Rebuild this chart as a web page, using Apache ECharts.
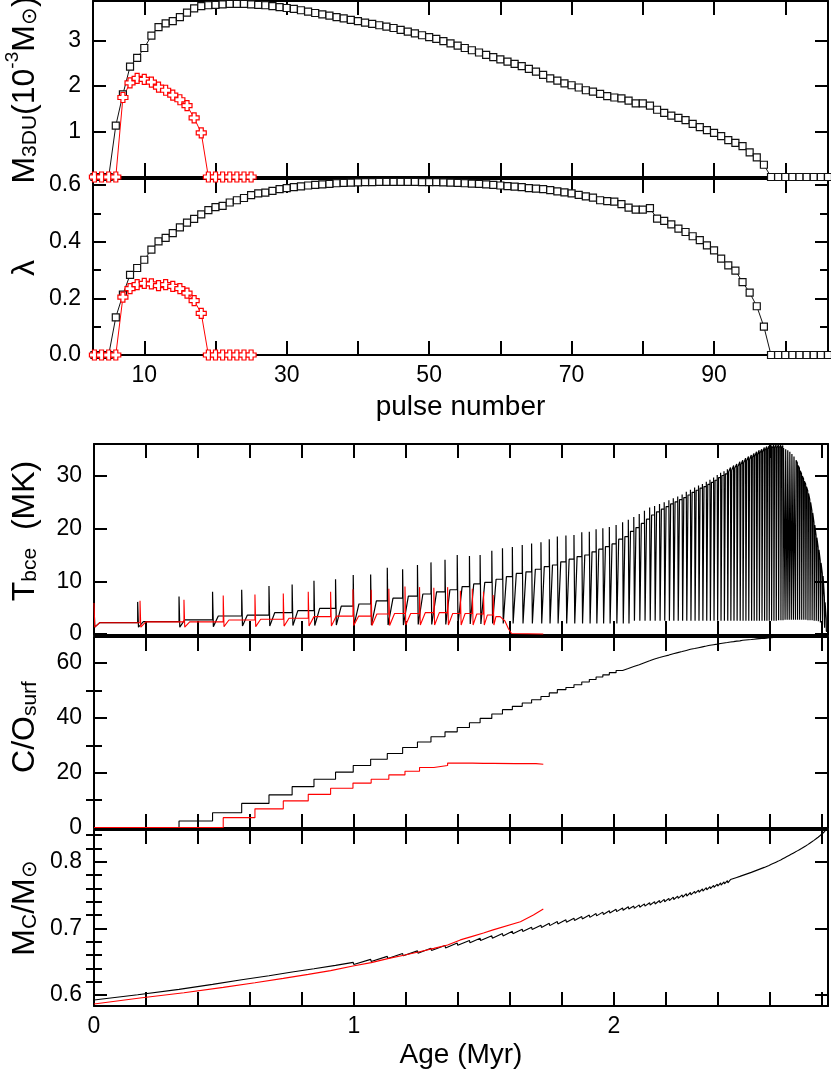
<!DOCTYPE html>
<html>
<head>
<meta charset="utf-8">
<script src="https://cdn.jsdelivr.net/npm/echarts@6/dist/echarts.min.js"></script>
<style>
  html, body { margin: 0; padding: 0; background: #fff; }
  #chart { width: 831px; height: 1078px; }
</style>
</head>
<body>
<div id="chart"></div>
<script>
// ---- upper block: third dredge-up per pulse ----
const firstPulse = 3;
const m3duBlack = [
  0, 0, 0,
  1.13, 1.82, 2.43, 2.62, 2.84, 3.11, 3.30, 3.38, 3.43, 3.52, 3.62, 3.71, 3.76, 3.78, 3.79, 3.80, 3.81, 3.81, 3.81,
  3.80, 3.79, 3.78, 3.76, 3.74, 3.72, 3.70, 3.67, 3.64, 3.61,
  3.58, 3.55, 3.52, 3.49, 3.46, 3.43, 3.40, 3.37, 3.34, 3.31,
  3.28, 3.24, 3.20, 3.16, 3.12, 3.08, 3.04, 2.99, 2.94, 2.89,
  2.84, 2.79, 2.74, 2.69, 2.64, 2.59, 2.54, 2.49, 2.44, 2.38,
  2.32, 2.25,
  2.17, 2.12, 2.06, 2.02, 1.97, 1.91, 1.88, 1.83, 1.78, 1.75,
  1.73, 1.68, 1.62, 1.62, 1.57, 1.48, 1.41, 1.35, 1.30, 1.25,
  1.17, 1.10, 1.03, 0.97, 0.90, 0.81, 0.75, 0.68, 0.54, 0.43, 0.27,
  0, 0, 0, 0, 0, 0, 0, 0, 0
];
const lambdaBlack = [
  0, 0, 0,
  0.133, 0.213, 0.283, 0.307, 0.336, 0.372, 0.401, 0.413, 0.430, 0.450, 0.467, 0.480,
  0.496, 0.511, 0.522, 0.526, 0.538, 0.546, 0.554, 0.564, 0.570, 0.573, 0.579, 0.585,
  0.589, 0.592, 0.595, 0.598, 0.600, 0.602, 0.604, 0.606, 0.607, 0.608,
  0.609, 0.610, 0.610, 0.611, 0.611, 0.611, 0.611, 0.611, 0.611, 0.610,
  0.610, 0.610, 0.609, 0.608, 0.607, 0.606, 0.605, 0.604, 0.602, 0.600,
  0.598, 0.596, 0.594, 0.592, 0.589, 0.587, 0.585,
  0.582, 0.577, 0.574, 0.570, 0.565, 0.560, 0.555, 0.546, 0.543, 0.541,
  0.532, 0.520, 0.513, 0.513, 0.518, 0.481, 0.473, 0.461, 0.446, 0.434,
  0.419, 0.405, 0.387, 0.369, 0.340, 0.316, 0.298, 0.257, 0.220, 0.172, 0.100,
  0, 0, 0, 0, 0, 0, 0, 0, 0
];
const m3duRed = [0, 0, 0, 0, 1.75, 2.07, 2.17, 2.15, 2.09, 1.98, 1.91, 1.80, 1.70, 1.57, 1.30, 0.97, 0, 0, 0, 0, 0, 0, 0];
const lambdaRed = [0, 0, 0, 0, 0.204, 0.234, 0.248, 0.253, 0.251, 0.245, 0.248, 0.242, 0.234, 0.218, 0.192, 0.147, 0, 0, 0, 0, 0, 0, 0];

const pulseTicks = [10, 20, 30, 40, 50, 60, 70, 80, 90, 100];
const pulseLabels = [10, 30, 50, 70, 90];

// ---- lower block: evolution with age (Myr), one entry per thermal pulse ----
const ageBlack = [
  0, 0.168, 0.327, 0.456, 0.568, 0.673, 0.762, 0.846, 0.929, 0.997,
  1.064, 1.128, 1.187, 1.244, 1.296, 1.350, 1.397, 1.444, 1.485, 1.530,
  1.571, 1.609, 1.647, 1.683, 1.719, 1.751, 1.782, 1.815, 1.846, 1.876,
  1.905, 1.931, 1.957, 1.982, 2.008, 2.033, 2.055,
  2.076, 2.097, 2.117, 2.137, 2.156, 2.175, 2.193, 2.211, 2.228, 2.245,
  2.262, 2.278, 2.294, 2.310, 2.325, 2.340, 2.355, 2.369, 2.383, 2.397,
  2.410, 2.423, 2.436, 2.448, 2.460, 2.472, 2.484, 2.495, 2.506, 2.517,
  2.528, 2.538, 2.548, 2.558, 2.568, 2.578, 2.587, 2.596, 2.605, 2.614,
  2.623, 2.632, 2.641, 2.649, 2.657, 2.665, 2.673, 2.681, 2.689, 2.697,
  2.705, 2.713, 2.721, 2.729, 2.737, 2.745, 2.753, 2.761, 2.769, 2.777,
  2.785, 2.793, 2.801, 2.809, 2.816
];
const tPeakBlack = [
  5.9, 6.1, 7.1, 8.0, 8.4, 9.1, 9.4, 10.1, 10.4, 11.2,
  11.3, 12.6, 12.3, 13.1, 13.6, 14.1, 15.0, 14.8, 15.0, 15.8,
  16.3, 16.5, 16.9, 17.2, 17.4, 18.0, 18.5, 18.7, 18.8, 19.3,
  19.4, 19.9, 20.1, 20.3, 20.7, 21.2, 21.7,
  22.2, 22.8, 23.4, 24.0, 24.3, 24.7, 25.0, 25.4, 25.8, 26.1,
  26.5, 27.0, 27.4, 27.8, 28.2, 28.5, 28.9, 29.3, 29.7, 30.2,
  30.6, 30.9, 31.3, 31.6, 32.0, 32.3, 32.7, 33.0, 33.4, 33.7,
  34.0, 34.3, 34.6, 34.9, 35.1, 35.4, 35.6, 35.7, 35.8, 35.9,
  35.9, 35.9, 35.9, 35.8, 35.6, 35.4, 35.1, 34.7, 34.2, 33.5,
  32.5, 31.5, 30.5, 29.5, 28.5, 27.2, 25.5, 23.5, 21.2, 18.8,
  16.5, 14.0, 11.5, 7.0, 3.0
];
const tLevelBlack = [
  2.15, 2.34, 2.7, 3.42, 3.6, 4.05, 4.43, 4.88, 5.3, 5.7,
  6.3, 6.8, 7.2, 7.6, 8.0, 8.4, 9.0, 9.5, 9.8, 10.4,
  10.9, 11.5, 11.8, 12.3, 12.8, 13.1, 13.7, 14.2, 14.7, 15.0,
  15.6, 16.1, 16.6, 17.1, 18.0, 18.5, 19.5,
  20.2, 21.0, 21.8, 22.6, 23.2, 23.7, 24.2, 24.7, 25.1, 25.5,
  25.9, 26.4, 26.9, 27.3, 27.7, 28.0, 28.4, 28.8, 29.2, 29.7,
  30.1, 30.4, 30.8, 31.1, 31.5, 31.8, 32.2, 32.5, 32.9, 33.2,
  33.5, 33.8, 34.1, 34.4, 34.6, 34.9, 35.1, 35.2, 35.3, 35.4,
  35.4, 35.4, 35.4, 35.3, 35.1, 34.9, 34.6, 34.2, 33.7, 33.0,
  32.0, 31.0, 30.0, 29.0, 28.0, 26.7, 25.0, 23.0, 20.7, 18.3,
  16.0, 13.5, 11.0, 6.0, 0.5
];
const tDipBlack = [
  1.3, 1.3, 1.3, 1.4, 1.5, 1.5, 1.6, 1.6, 1.7, 1.7,
  1.7, 1.7, 1.7, 1.8, 1.8, 1.8, 1.9, 1.9, 1.9, 2.0,
  2.0, 2.0, 2.0, 2.0, 2.0, 2.0, 2.0, 2.0, 2.0, 2.0,
  2.0, 2.0, 2.0, 2.0, 2.0, 2.0, 2.0,
  2.5, 2.5, 2.5, 2.5, 2.5, 2.5, 2.5, 2.5, 2.5, 2.5,
  2.5, 2.5, 2.5, 2.5, 2.5, 2.5, 2.5, 2.5, 2.5, 2.5,
  2.5, 2.5, 2.5, 2.5, 2.5, 2.5, 2.5, 2.5, 2.5, 2.5,
  2.5, 2.5, 2.5, 2.5, 2.5, 2.5, 2.5, 2.5, 2.5, 2.5,
  2.5, 2.6, 2.6, 2.6, 2.7, 2.7, 2.7, 2.7, 2.7, 2.7,
  2.7, 2.7, 2.7, 2.7, 2.7, 2.6, 2.6, 2.6, 2.5, 2.5,
  2.4, 2.2, 1.8, 1.2, 0.5
];
const coBlack = [
  0, 0, 2.4, 5.4, 8.8, 11.9, 14.9, 17.6, 20.2, 22.6,
  24.9, 27.0, 29.2, 31.2, 33.1, 34.9, 36.5, 38.2, 39.8, 41.4,
  43.0, 44.2, 45.4, 46.6, 47.8, 49.1, 50.3, 51.1, 52.1, 53.1,
  54.0, 54.9, 55.7, 56.5, 57.3, 58.0, 58.7,
  59.4, 60.1, 60.8, 61.5, 62.0, 62.5, 62.9, 63.4, 63.8, 64.2,
  64.6, 65.0, 65.3, 65.6, 65.9, 66.2, 66.5, 66.7, 66.9, 67.1,
  67.3, 67.5, 67.7, 67.8, 68.0, 68.1, 68.3, 68.4, 68.5, 68.6,
  68.7, 68.8, 68.9, 69.0, 69.0, 69.1, 69.2, 69.2, 69.3, 69.3,
  69.3, 69.4, 69.4, 69.4, 69.4, 69.4, 69.4, 69.4, 69.4, 69.4,
  69.4, 69.4, 69.4, 69.4, 69.4, 69.4, 69.4, 69.4, 69.4, 69.4,
  69.4, 69.4, 69.4, 69.4, 69.4
];
const mcBlack = [
  0.5925, 0.6005, 0.6085, 0.6160, 0.6228, 0.6290, 0.6345, 0.6395, 0.6445, 0.6490,
  0.6535, 0.6580, 0.6622, 0.6662, 0.6702, 0.6742, 0.6780, 0.6818, 0.6852, 0.6888,
  0.6922, 0.6955, 0.6988, 0.7018, 0.7048, 0.7076, 0.7102, 0.7128, 0.7153, 0.7177,
  0.7200, 0.7222, 0.7244, 0.7265, 0.7286, 0.7306, 0.7325,
  0.7335, 0.7352, 0.7368, 0.7385, 0.7401, 0.7418, 0.7434, 0.7451, 0.7468, 0.7485,
  0.7502, 0.7520, 0.7538, 0.7556, 0.7574, 0.7592, 0.7610, 0.7628, 0.7646, 0.7665,
  0.7682, 0.7699, 0.7716, 0.7732, 0.7748, 0.7764, 0.7780, 0.7795, 0.7810, 0.7825,
  0.7840, 0.7855, 0.7870, 0.7885, 0.7900, 0.7915, 0.7930, 0.7945, 0.7961, 0.7977,
  0.7993, 0.8009, 0.8026, 0.8043, 0.8060, 0.8077, 0.8094, 0.8111, 0.8128, 0.8145,
  0.8163, 0.8181, 0.8199, 0.8218, 0.8237, 0.8257, 0.8278, 0.8299, 0.8321, 0.8344,
  0.8368, 0.8393, 0.8420, 0.8450, 0.8482
];
const mcDropBlack = [
  0, 0, 0.0010, 0.0017, 0.0024, 0.0026, 0.0028, 0.0028, 0.0030, 0.0031,
  0.0032, 0.0033, 0.0033, 0.0034, 0.0034, 0.0035, 0.0035, 0.0035, 0.0035, 0.0035,
  0.0035, 0.0035, 0.0035, 0.0035, 0.0035, 0.0035, 0.0035, 0.0035, 0.0035, 0.0035,
  0.0035, 0.0035, 0.0035, 0.0035, 0.0035, 0.0035, 0.0035,
  0.0035, 0.0035, 0.0035, 0.0035, 0.0035, 0.0035, 0.0035, 0.0035, 0.0035, 0.0035,
  0.0035, 0.0035, 0.0035, 0.0032, 0.0032, 0.0032, 0.0032, 0.0032, 0.0032, 0.0032,
  0.0032, 0.0032, 0.0032, 0.0028, 0.0028, 0.0028, 0.0028, 0.0028, 0.0028, 0.0028,
  0.0028, 0.0028, 0.0022, 0.0022, 0.0022, 0.0022, 0.0022, 0.0022, 0.0012, 0.0012,
  0.0012, 0.0012, 0.0012, 0, 0, 0, 0, 0, 0, 0,
  0, 0, 0, 0, 0, 0, 0, 0, 0, 0,
  0, 0, 0, 0, 0
];
const ageEndBlack = 2.822;
const mcEndBlack = 0.851;

const ageRed = [0, 0.177, 0.346, 0.497, 0.619, 0.728, 0.824, 0.910, 0.996, 1.066, 1.134, 1.196, 1.252, 1.307, 1.360, 1.409, 1.455, 1.498, 1.535];
const tPeakRed = [5.9, 6.3, 6.5, 7.3, 7.5, 7.7, 8.0, 8.0, 8.5, 8.4, 8.6, 9.0, 8.9, 8.8, 8.9, 8.2, 8.6, 8.0, 7.4];
const tLevelRed = [2.15, 2.3, 2.3, 2.66, 2.8, 3.0, 3.3, 3.4, 3.4, 3.8, 3.9, 3.9, 4.05, 4.05, 3.9, 3.9, 3.8, 3.6, 3.3];
const tDipRed = [1.3, 1.3, 1.3, 1.4, 1.4, 1.5, 1.5, 1.5, 1.6, 1.6, 1.6, 1.7, 1.7, 1.7, 1.7, 1.7, 1.7, 1.7, 1.7];
const tTailAgeRed = [1.562, 1.580, 1.594, 1.606, 1.728];
const tTailRed = [3.3, 2.5, 1.0, 0.1, 0.0];
const coRed = [0, 0, 0, 3.6, 6.8, 9.7, 12.1, 14.3, 16.2, 17.6, 19.2, 20.5, 21.9, 22.6, 23.5, 23.5, 23.4, 23.4, 23.3];
const coTailAgeRed = [1.62, 1.70, 1.728];
const coTailRed = [23.3, 23.1, 22.9];
const mcRed = [0.5865, 0.5955, 0.6035, 0.6115, 0.6185, 0.6250, 0.6310, 0.6366, 0.6436, 0.6486, 0.6550, 0.6600, 0.6650, 0.6700, 0.6750, 0.6827, 0.6880, 0.6930, 0.6977];
const mcDropRed = [0, 0, 0, 0.0017, 0.0021, 0.0022, 0.0021, 0.0021, 0.0020, 0.0019, 0.0018, 0.0017, 0.0016, 0.0013, 0.0010, 0, 0, 0, 0];
const mcTailAgeRed = [1.64, 1.69, 1.728];
const mcTailRed = [0.710, 0.720, 0.729];

const ageTicks = [0, 0.2, 0.4, 0.6, 0.8, 1, 1.2, 1.4, 1.6, 1.8, 2, 2.2, 2.4, 2.6, 2.8];
const ageLabels = [0, 1, 2];

const FONT = '"Liberation Sans", Arial, sans-serif';
const BLACK = '#000';
const RED = '#ff0000';

// pulse-shaped temperature curve: spike, drop to the dip, recover to the interpulse level
function tbceLine(age, peak, dip, level, tailAge, tailVal, endAge) {
  const pts = [];
  for (let i = 0; i < age.length; i++) {
    const next = i + 1 < age.length ? age[i + 1] : (tailAge ? tailAge[0] : endAge);
    const gap = next - age[i];
    if (i > 0) pts.push([age[i], level[i - 1]]);
    pts.push([age[i], peak[i]]);
    pts.push([age[i] + Math.min(0.003, gap * 0.12), dip[i]]);
    pts.push([age[i] + Math.min(0.022, gap * 0.4), level[i]]);
  }
  if (tailAge) tailAge.forEach((a, k) => pts.push([a, tailVal[k]]));
  else pts.push([endAge, level[level.length - 1]]);
  return pts;
}

function stepLine(age, vals, tailAge, tailVal) {
  const pts = age.map((a, i) => [a, vals[i]]);
  tailAge.forEach((a, k) => pts.push([a, tailVal[k]]));
  return pts;
}

// core mass: grows between pulses, drops by the dredged-up mass at each pulse
function coreLine(age, pre, drop, tailAge, tailVal) {
  const pts = [];
  age.forEach((a, i) => {
    pts.push([a, pre[i]]);
    if (drop[i] > 0) pts.push([a + 0.002, pre[i] - drop[i]]);
  });
  tailAge.forEach((a, k) => pts.push([a, tailVal[k]]));
  return pts;
}

const axisLine = { color: BLACK, width: 2 };
const rich = {
  b: { fontSize: 32, lineHeight: 38, verticalAlign: 'bottom', fontFamily: FONT, fill: BLACK, color: BLACK },
  s: { fontSize: 21, lineHeight: 26, verticalAlign: 'bottom', fontFamily: FONT, fill: BLACK, color: BLACK },
  p: { fontSize: 19, lineHeight: 22, verticalAlign: 'top', fontFamily: FONT, fill: BLACK, color: BLACK }
};

const grids = [];
const xAxes = [];
const yAxes = [];

function addGrid(left, top, height) {
  grids.push({ left: left, right: 3, top: top, height: height, outerBoundsMode: 'none', containLabel: false });
  return grids.length - 1;
}

function addX(grid, min, max, ticks, labels, name, nameGap) {
  const base = {
    type: 'value', gridIndex: grid, min: min, max: max,
    splitLine: { show: false },
    axisLine: { show: true, onZero: false, lineStyle: axisLine },
    axisTick: { show: true, inside: true, length: 14, customValues: ticks, lineStyle: axisLine }
  };
  const idx = xAxes.length;
  xAxes.push(Object.assign({}, base, {
    position: 'bottom',
    axisLabel: labels
      ? { show: true, customValues: labels, fontSize: 23, fontFamily: FONT, color: BLACK, margin: 9 }
      : { show: false },
    name: name || '', nameLocation: 'middle', nameGap: nameGap || 0,
    nameTextStyle: { fontSize: 28, fontFamily: FONT, color: BLACK }
  }));
  xAxes.push(Object.assign({}, base, { position: 'top', axisLabel: { show: false } }));
  return idx;
}

function addY(grid, min, max, major, labels, fmt, minor) {
  const common = { type: 'value', gridIndex: grid, min: min, max: max, splitLine: { show: false } };
  const idx = yAxes.length;
  yAxes.push(Object.assign({}, common, {
    position: 'left',
    axisLine: { show: true, onZero: false, lineStyle: axisLine },
    axisTick: { show: true, inside: true, length: 13, customValues: major, lineStyle: axisLine },
    axisLabel: { show: true, customValues: labels, formatter: fmt, fontSize: 23, fontFamily: FONT, color: BLACK, margin: 12 }
  }));
  yAxes.push(Object.assign({}, common, {
    position: 'right',
    axisLine: { show: true, onZero: false, lineStyle: axisLine },
    axisTick: { show: true, inside: true, length: 13, customValues: major, lineStyle: axisLine },
    axisLabel: { show: false }
  }));
  if (minor) {
    ['left', 'right'].forEach(pos => yAxes.push(Object.assign({}, common, {
      position: pos,
      axisLine: { show: false },
      axisTick: { show: true, inside: true, length: 8, customValues: minor, lineStyle: axisLine },
      axisLabel: { show: false }
    })));
  }
  return idx;
}

// rotated panel titles
function yTitle(text, cy) {
  return {
    type: 'text', x: 22, y: cy, rotation: Math.PI / 2, z: 10,
    style: { text: text, rich: rich, align: 'center', verticalAlign: 'middle', fontSize: 32, fontFamily: FONT, fill: BLACK }
  };
}

const plain = v => String(v);
const oneDec = v => v.toFixed(1);

const g0 = addGrid(93, 1, 176);
const g1 = addGrid(93, 179, 176);
const g2 = addGrid(94, 444, 191);
const g3 = addGrid(94, 637, 191);
const g4 = addGrid(94, 830, 176);

const x0 = addX(g0, 2.8, 106.0, pulseTicks, null);
const x1 = addX(g1, 2.8, 106.0, pulseTicks, pulseLabels, 'pulse number', 38);
const x2 = addX(g2, 0, 2.823, ageTicks, null);
const x3 = addX(g3, 0, 2.823, ageTicks, null);
const x4 = addX(g4, 0, 2.823, ageTicks, ageLabels, 'Age (Myr)', 35);

const y0 = addY(g0, 0, 3.874, [1, 2, 3], [1, 2, 3], plain, null);
const y1 = addY(g1, 0, 0.621, [0, 0.2, 0.4, 0.6], [0, 0.2, 0.4, 0.6], oneDec, [0.1, 0.3, 0.5]);
const y2 = addY(g2, -0.19, 36.08, [0, 10, 20, 30], [0, 10, 20, 30], plain, null);
const y3 = addY(g3, -0.18, 69.5, [0, 20, 40, 60], [0, 20, 40, 60], plain, [10, 30, 50]);
const y4 = addY(g4, 0.5835, 0.8476, [0.6, 0.7, 0.8], [0.6, 0.7, 0.8], plain,
  [0.62, 0.64, 0.66, 0.68, 0.72, 0.74, 0.76, 0.78, 0.82, 0.84]);

const plusPath = 'path://M3,0 H7 V3 H10 V7 H7 V10 H3 V7 H0 V3 H3 Z';
const byPulse = arr => arr.map((v, i) => [firstPulse + i, v]);

function markedLine(xi, yi, data, color, symbol, size) {
  return {
    type: 'line', xAxisIndex: xi, yAxisIndex: yi, data: data,
    symbol: symbol, symbolSize: size, showAllSymbol: true,
    lineStyle: { color: color, width: 1 },
    itemStyle: { color: '#fff', borderColor: color, borderWidth: 1.2 }
  };
}

function plainLine(xi, yi, data, color, step, width) {
  return {
    type: 'line', xAxisIndex: xi, yAxisIndex: yi, data: data,
    symbol: 'none', step: step || false,
    lineStyle: { color: color, width: width || 1.1 }
  };
}

const chart = echarts.init(document.getElementById('chart'), null, { renderer: 'canvas' });
chart.setOption({
  animation: false,
  backgroundColor: '#fff',
  grid: grids,
  xAxis: xAxes,
  yAxis: yAxes,
  graphic: [
    yTitle('{b|M}{s|3DU}{b|(10}{p|-3}{b|M}{s|⊙}{b|)}', 90),
    yTitle('{b|λ}', 268),
    yTitle('{b|T}{s|bce}{b|  (MK)}', 531),
    yTitle('{b|C/O}{s|surf}', 727),
    yTitle('{b|M}{s|C}{b|/M}{s|⊙}', 908)
  ],
  series: [
    markedLine(x0, y0, byPulse(m3duBlack), '#111', 'rect', 7),
    markedLine(x0, y0, byPulse(m3duRed), RED, plusPath, 10),
    markedLine(x1, y1, byPulse(lambdaBlack), '#111', 'rect', 7),
    markedLine(x1, y1, byPulse(lambdaRed), RED, plusPath, 10),
    plainLine(x2, y2, tbceLine(ageBlack, tPeakBlack, tDipBlack, tLevelBlack, null, null, ageEndBlack), BLACK, false, 1.2),
    plainLine(x2, y2, tbceLine(ageRed, tPeakRed, tDipRed, tLevelRed, tTailAgeRed, tTailRed), RED),
    plainLine(x3, y3, stepLine(ageBlack, coBlack, [ageEndBlack], [coBlack[coBlack.length - 1]]), BLACK, 'end'),
    plainLine(x3, y3, stepLine(ageRed, coRed, coTailAgeRed, coTailRed), RED, 'end'),
    plainLine(x4, y4, coreLine(ageBlack, mcBlack, mcDropBlack, [ageEndBlack], [mcEndBlack]), BLACK),
    plainLine(x4, y4, coreLine(ageRed, mcRed, mcDropRed, mcTailAgeRed, mcTailRed), RED)
  ]
});
</script>
</body>
</html>
